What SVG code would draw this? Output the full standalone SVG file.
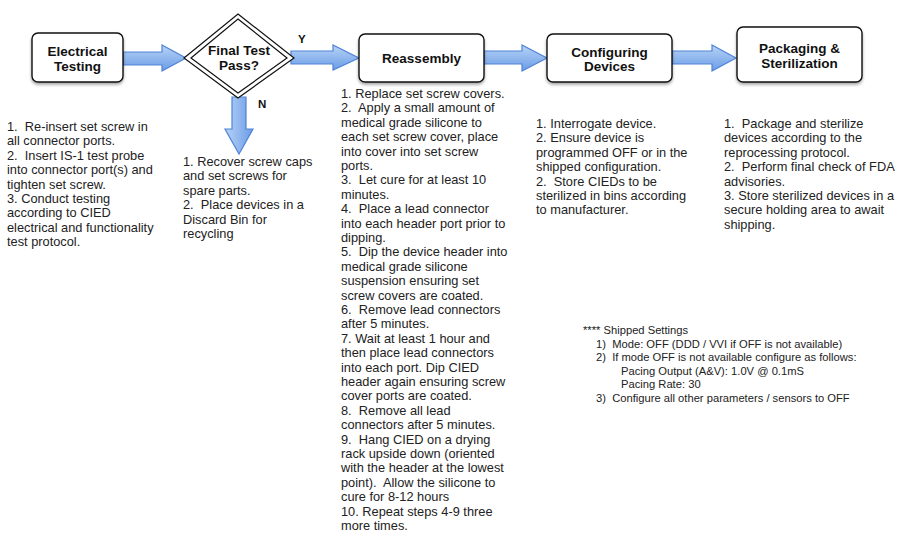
<svg xmlns="http://www.w3.org/2000/svg" width="899" height="538" viewBox="0 0 899 538">
<style>
.box{fill:#fff;stroke:#111;stroke-width:1.4}
.title{font-family:"Liberation Sans",Arial,sans-serif;font-weight:bold;font-size:13.5px;fill:#111;text-anchor:middle}
.lbl{font-family:"Liberation Sans",Arial,sans-serif;font-weight:bold;font-size:11.5px;fill:#111}
.body{font-family:"Liberation Sans",Arial,sans-serif;font-size:12.8px;fill:#222;white-space:pre}
.small{font-family:"Liberation Sans",Arial,sans-serif;font-size:11.2px;fill:#222;white-space:pre}
.arr{fill:url(#gh);stroke:#4f83d6;stroke-width:1.2;stroke-linejoin:miter}
.arrv{fill:url(#gv);stroke:#4f83d6;stroke-width:1.2}
</style>
<defs>
<linearGradient id="gh" x1="0" y1="0" x2="0" y2="1">
<stop offset="0" stop-color="#b8d3f6"/>
<stop offset="1" stop-color="#6a9ce6"/>
</linearGradient>
<linearGradient id="gv" x1="0" y1="0" x2="1" y2="0">
<stop offset="0" stop-color="#b8d3f6"/>
<stop offset="1" stop-color="#6a9ce6"/>
</linearGradient>
<filter id="sh" x="-10%" y="-10%" width="120%" height="130%">
<feDropShadow dx="0" dy="2" stdDeviation="1.5" flood-color="#000" flood-opacity="0.35"/>
</filter>
</defs>
<rect width="899" height="538" fill="#fff"/>

<g id="connectors">
<polygon class="arr" points="123,52 162,52 162,45 186,58 162,71 162,65 123,65"/>
<polygon class="arr" points="291,51 333,51 333,45 359,58 333,70 333,64 291,64"/>
<polygon class="arr" points="484,51 522,51 522,45 547,58 522,71 522,64 484,64"/>
<polygon class="arr" points="672,51 712,51 712,45 736,58 712,71 712,64 672,64"/>
<polygon class="arrv" points="232,97 246,97 246,129 253,129 239,154 225,129 232,129"/>
<text class="lbl" x="298" y="43">Y</text>
<text class="lbl" x="258" y="108">N</text>
</g>

<g id="electrical-testing">
<rect class="box" x="32" y="33" width="91" height="49" rx="6" filter="url(#sh)"/>
<text class="title" x="77.5" y="56">Electrical</text>
<text class="title" x="77.5" y="71">Testing</text>
</g>

<g id="final-test">
<polygon points="238,14 294,58 238,98 184,58" fill="#fff" stroke="#111" stroke-width="1.2"/>
<polygon points="238,19 287,58 238,93 191,58" fill="none" stroke="#111" stroke-width="1.2"/>
<text class="title" x="239" y="55">Final Test</text>
<text class="title" x="239" y="70">Pass?</text>
</g>

<g id="reassembly">
<rect class="box" x="359" y="34" width="125" height="48" rx="6" filter="url(#sh)"/>
<text class="title" x="421.5" y="63">Reassembly</text>
</g>

<g id="configuring-devices">
<rect class="box" x="547" y="34" width="125" height="48" rx="6" filter="url(#sh)"/>
<text class="title" x="609.5" y="56.5">Configuring</text>
<text class="title" x="609.5" y="71">Devices</text>
</g>

<g id="packaging-sterilization">
<rect class="box" x="737" y="27" width="125" height="55" rx="6" filter="url(#sh)"/>
<text class="title" x="799.5" y="52.5">Packaging &amp;</text>
<text class="title" x="799.5" y="67.5">Sterilization</text>
</g>

<g id="electrical-steps">
<text class="body" y="131">
<tspan x="7">1.  Re-insert set screw in</tspan>
<tspan x="7" dy="14.4">all connector ports.</tspan>
<tspan x="7" dy="14.4">2.  Insert IS-1 test probe</tspan>
<tspan x="7" dy="14.4">into connector port(s) and</tspan>
<tspan x="7" dy="14.4">tighten set screw.</tspan>
<tspan x="7" dy="14.4">3. Conduct testing</tspan>
<tspan x="7" dy="14.4">according to CIED</tspan>
<tspan x="7" dy="14.4">electrical and functionality</tspan>
<tspan x="7" dy="14.4">test protocol.</tspan>
</text>
</g>

<g id="fail-steps">
<text class="body" y="166">
<tspan x="183">1. Recover screw caps</tspan>
<tspan x="183" dy="14.4">and set screws for</tspan>
<tspan x="183" dy="14.4">spare parts.</tspan>
<tspan x="183" dy="14.4">2.  Place devices in a</tspan>
<tspan x="183" dy="14.4">Discard Bin for</tspan>
<tspan x="183" dy="14.4">recycling</tspan>
</text>
</g>

<g id="reassembly-steps">
<text class="body" y="98">
<tspan x="341">1. Replace set screw covers.</tspan>
<tspan x="341" dy="14.4">2.  Apply a small amount of</tspan>
<tspan x="341" dy="14.4">medical grade silicone to</tspan>
<tspan x="341" dy="14.4">each set screw cover, place</tspan>
<tspan x="341" dy="14.4">into cover into set screw</tspan>
<tspan x="341" dy="14.4">ports.</tspan>
<tspan x="341" dy="14.4">3.  Let cure for at least 10</tspan>
<tspan x="341" dy="14.4">minutes.</tspan>
<tspan x="341" dy="14.4">4.  Place a lead connector</tspan>
<tspan x="341" dy="14.4">into each header port prior to</tspan>
<tspan x="341" dy="14.4">dipping.</tspan>
<tspan x="341" dy="14.4">5.  Dip the device header into</tspan>
<tspan x="341" dy="14.4">medical grade silicone</tspan>
<tspan x="341" dy="14.4">suspension ensuring set</tspan>
<tspan x="341" dy="14.4">screw covers are coated.</tspan>
<tspan x="341" dy="14.4">6.  Remove lead connectors</tspan>
<tspan x="341" dy="14.4">after 5 minutes.</tspan>
<tspan x="341" dy="14.4">7. Wait at least 1 hour and</tspan>
<tspan x="341" dy="14.4">then place lead connectors</tspan>
<tspan x="341" dy="14.4">into each port. Dip CIED</tspan>
<tspan x="341" dy="14.4">header again ensuring screw</tspan>
<tspan x="341" dy="14.4">cover ports are coated.</tspan>
<tspan x="341" dy="14.4">8.  Remove all lead</tspan>
<tspan x="341" dy="14.4">connectors after 5 minutes.</tspan>
<tspan x="341" dy="14.4">9.  Hang CIED on a drying</tspan>
<tspan x="341" dy="14.4">rack upside down (oriented</tspan>
<tspan x="341" dy="14.4">with the header at the lowest</tspan>
<tspan x="341" dy="14.4">point).  Allow the silicone to</tspan>
<tspan x="341" dy="14.4">cure for 8-12 hours</tspan>
<tspan x="341" dy="14.4">10. Repeat steps 4-9 three</tspan>
<tspan x="341" dy="14.4">more times.</tspan>
</text>
</g>

<g id="configuring-steps">
<text class="body" y="128">
<tspan x="536">1. Interrogate device.</tspan>
<tspan x="536" dy="14.4">2. Ensure device is</tspan>
<tspan x="536" dy="14.4">programmed OFF or in the</tspan>
<tspan x="536" dy="14.4">shipped configuration.</tspan>
<tspan x="536" dy="14.4">2.  Store CIEDs to be</tspan>
<tspan x="536" dy="14.4">sterilized in bins according</tspan>
<tspan x="536" dy="14.4">to manufacturer.</tspan>
</text>
</g>

<g id="packaging-steps">
<text class="body" y="128">
<tspan x="724">1.  Package and sterilize</tspan>
<tspan x="724" dy="14.4">devices according to the</tspan>
<tspan x="724" dy="14.4">reprocessing protocol.</tspan>
<tspan x="724" dy="14.4">2.  Perform final check of FDA</tspan>
<tspan x="724" dy="14.4">advisories.</tspan>
<tspan x="724" dy="14.4">3. Store sterilized devices in a</tspan>
<tspan x="724" dy="14.4">secure holding area to await</tspan>
<tspan x="724" dy="14.4">shipping.</tspan>
</text>
</g>

<g id="shipped-settings">
<text class="small" y="334">
<tspan x="583">**** Shipped Settings</tspan>
<tspan x="596" dy="13.6">1)  Mode: OFF (DDD / VVI if OFF is not available)</tspan>
<tspan x="596" dy="13.6">2)  If mode OFF is not available configure as follows:</tspan>
<tspan x="621" dy="13.6">Pacing Output (A&amp;V): 1.0V @ 0.1mS</tspan>
<tspan x="621" dy="13.6">Pacing Rate: 30</tspan>
<tspan x="596" dy="13.6">3)  Configure all other parameters / sensors to OFF</tspan>
</text>
</g>
</svg>
